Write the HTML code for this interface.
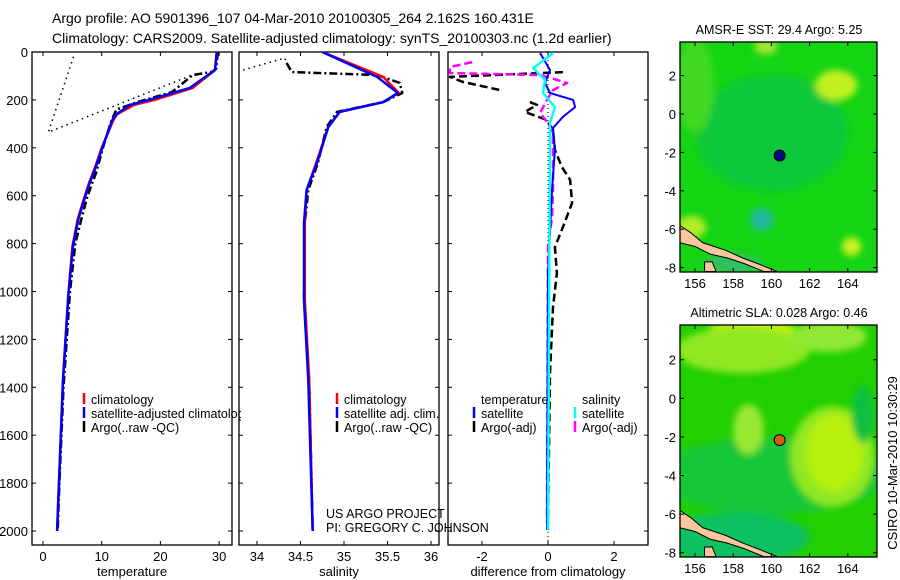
<!DOCTYPE html>
<html><head><meta charset="utf-8"><style>
html,body{margin:0;padding:0;background:#fff;}
svg{display:block;font-family:"Liberation Sans",sans-serif;}
</style></head><body>
<svg id="fig" width="900" height="580" viewBox="0 0 900 580" xmlns="http://www.w3.org/2000/svg">
<defs>
<clipPath id="c1"><rect x="32" y="52" width="200" height="493"/></clipPath>
<clipPath id="c1l"><rect x="32" y="52" width="209" height="493"/></clipPath>
<clipPath id="c2"><rect x="239" y="52" width="200" height="493"/></clipPath>
<clipPath id="c3"><rect x="448" y="52" width="200" height="493"/></clipPath>
<clipPath id="m1"><rect x="680" y="42" width="197" height="230"/></clipPath>
<clipPath id="m2"><rect x="680" y="325" width="197" height="232"/></clipPath>
<filter id="blur" x="-50%" y="-50%" width="200%" height="200%"><feGaussianBlur stdDeviation="3.5"/></filter>
</defs>
<text x="52" y="23" font-size="14">Argo profile: AO 5901396_107 04-Mar-2010 20100305_264 2.162S 160.431E</text>
<text x="52" y="43" font-size="14">Climatology: CARS2009. Satellite-adjusted climatology: synTS_20100303.nc (1.2d earlier)</text>
<g id="g"></g>
</svg>
<script>
// ---- data ----
const depthTicks = [0,200,400,600,800,1000,1200,1400,1600,1800,2000];
const tempTicks = [0,10,20,30];
const salTicks = [34,34.5,35,35.5,36];
const diffTicks = [-2,0,2];
const latTicks = [2,0,-2,-4,-6,-8];
const lonTicks = [156,158,160,162,164];

const tSatDepth = [0,75,150,200,221,260,284,400,480,550,618,700,814,1023,1370,2000];
const tSatVal   = [29.6,29.3,25,18,14.8,12.5,11.8,10.1,9.0,7.9,7.0,6.0,5.1,4.3,3.4,2.4];
const tClimDepth= [0,75,150,200,221,260,284,400,480,550,618,700,814,1023,1370,2000];
const tClimVal  = [29.6,29.3,25.5,19,15.5,12.6,12,10.0,8.9,7.8,6.9,5.9,5.0,4.3,3.4,2.4];
const tArgoDepth= [0,70,83,96,167,210,240,290,400,500,600,700,800,1000,1400,1800,2000];
const tArgoVal  = [29.8,29.5,28.8,25.5,22,16,12.5,11.6,10.2,9.1,7.6,6.5,5.5,4.6,3.5,2.8,2.5];
const tRawDepth = [20,335,95];
const tRawVal   = [5.2,0.9,25.5];

const sSatDepth = [0,104,171,209,250,313,463,576,714,1035,1370,2000];
const sSatVal   = [34.75,35.38,35.62,35.45,34.95,34.82,34.69,34.57,34.54,34.54,34.59,34.64];
const sClimDepth= [0,104,171,209,250,313,463,576,714,1035,1370,2000];
const sClimVal  = [34.75,35.45,35.63,35.45,34.95,34.82,34.68,34.57,34.55,34.55,34.6,34.64];
const sArgoDepth= [46,84,96,129,171,209,250,313,463,576,714,1035,1370,2000];
const sArgoVal  = [34.34,34.40,35.38,35.64,35.67,35.45,34.92,34.80,34.70,34.59,34.55,34.54,34.6,34.64];
const sRawDepth = [75,25,46];
const sRawVal   = [33.84,34.32,34.34];

const dTSatDepth = [4,75,129,171,200,230,271,317,409,576,923,1996];
const dTSatVal   = [-0.24,0.06,-0.09,0.06,0.76,0.82,0.45,0.15,0.21,0.12,0,-0.03];
const dSSatDepth = [4,46,67,117,171,230,296,1996];
const dSSatVal   = [0.15,-0.24,-0.45,-0.09,-0.15,0.21,0.06,0];
const dTArgoDepthA = [84,104,125,159];
const dTArgoValA   = [0.45,-2.97,-2.58,-1.45];
const dTArgoDepthB = [209,221,250,284,326,409,480,534,630,731,814,923,1065,1340,1967];
const dTArgoValB   = [-0.55,-0.33,-0.7,-0.03,0.15,0.21,0.42,0.67,0.73,0.45,0.21,0.27,0.15,0.06,0];
const dSArgoDepth = [42,63,88,96,129,159,200,255,292,338,576,689,814,1967];
const dSArgoVal   = [-2.3,-2.97,-2.97,-0.24,0.58,0.15,-0.03,-0.24,-0.03,0.15,0.15,0.12,0,-0.03];

const floatLon = 160.431, floatLat = -2.162;

// ---- helpers ----
const NS='http://www.w3.org/2000/svg';
const G=document.getElementById('g');
function mk(tag,attrs,parent){const e=document.createElementNS(NS,tag);for(const k in attrs)e.setAttribute(k,attrs[k]);(parent||G).appendChild(e);return e;}
const yD = d => 52 + d*0.2395;
const xT = v => 43 + v*5.87;
const xS = v => 257 + (v-34)*87;
const xDf = v => 548 + v*33;

function line(xf,depths,vals,color,w,dash,clip,name){
  const pts=depths.map((d,i)=>xf(vals[i]).toFixed(1)+','+yD(d).toFixed(1)).join(' ');
  const p=mk('polyline',{points:pts,fill:'none',stroke:color,'stroke-width':w,'clip-path':'url(#'+clip+')','stroke-linejoin':'round'});
  if(dash)p.setAttribute('stroke-dasharray',dash);
  
  
}
function panel(x0,w,xf,xticks,label,name,showY){
  const r=mk('rect',{x:x0,y:52,width:w,height:493,fill:'none',stroke:'#000','stroke-width':1.3});
  
  
  depthTicks.forEach(d=>{
    mk('line',{x1:x0,x2:x0+4,y1:yD(d),y2:yD(d),stroke:'#000'});
    mk('line',{x1:x0+w-4,x2:x0+w,y1:yD(d),y2:yD(d),stroke:'#000'});
    if(showY){const t=mk('text',{x:x0-4,y:yD(d)+5,'font-size':13,'text-anchor':'end'});t.textContent=d;
      
      }
  });
  xticks.forEach(v=>{
    const x=xf(v);
    mk('line',{x1:x,x2:x,y1:52,y2:56,stroke:'#000'});
    mk('line',{x1:x,x2:x,y1:541,y2:545,stroke:'#000'});
    const t=mk('text',{x:x,y:561,'font-size':13,'text-anchor':'middle'});t.textContent=v;
    
    
  });
  const t=mk('text',{x:x0+w/2,y:576,'font-size':13,'text-anchor':'middle'});t.textContent=label;
  
  
}
function legend(x,y,color,text,name,clip){
  const l=mk('line',{x1:x,x2:x,y1:y-11,y2:y,stroke:color,'stroke-width':2.5});
  
  
  const t=mk('text',{x:x+7,y:y,'font-size':12.5});t.textContent=text;
  if(clip)t.setAttribute('clip-path','url(#'+clip+')');
  
  
}

// ---- panels ----
panel(32,200,xT,tempTicks,'temperature','temperature-panel',true);
panel(239,200,xS,salTicks,'salinity','salinity-panel',false);
panel(448,200,xDf,diffTicks,'difference from climatology','difference-panel',false);

// temperature
line(xT,tRawDepth,tRawVal,'#000',1.5,'1.5 4','c1','temp-raw-dotted');
line(xT,tArgoDepth,tArgoVal,'#000',2.5,'8 3 2 3','c1','temp-argo-line');
line(xT,tClimDepth,tClimVal,'#ff0000',2.5,null,'c1','temp-climatology-line');
line(xT,tSatDepth,tSatVal,'#0000ff',2.5,null,'c1','temp-satellite-line');
legend(84,404,'#ff0000','climatology','temp-legend-climatology','c1l');
legend(84,418,'#0000ff','satellite-adjusted climatology','temp-legend-satellite','c1l');
legend(84,432,'#000','Argo(..raw -QC)','temp-legend-argo','c1l');

// salinity
line(xS,sRawDepth,sRawVal,'#000',1.5,'1.5 4','c2','sal-raw-dotted');
line(xS,sArgoDepth,sArgoVal,'#000',2.5,'8 3 2 3','c2','sal-argo-line');
line(xS,sClimDepth,sClimVal,'#ff0000',2.5,null,'c2','sal-climatology-line');
line(xS,sSatDepth,sSatVal,'#0000ff',2.5,null,'c2','sal-satellite-line');
legend(337,404,'#ff0000','climatology','sal-legend-climatology');
legend(337,418,'#0000ff','satellite adj. clim.','sal-legend-satellite');
legend(337,432,'#000','Argo(..raw -QC)','sal-legend-argo');
[['US ARGO PROJECT',518],['PI: GREGORY C. JOHNSON',532]].forEach(([s,y],i)=>{
  const t=mk('text',{x:326,y:y,'font-size':12.5});t.textContent=s;
  
  
});

// differences
mk('line',{x1:548,x2:548,y1:52,y2:545,stroke:'#000','stroke-width':1,'stroke-dasharray':'1 3'});
line(xDf,dTArgoDepthA,dTArgoValA,'#000',2.5,'8 4','c3','diff-temp-argo-upper');
line(xDf,dTArgoDepthB,dTArgoValB,'#000',2.5,'8 4','c3','diff-temp-argo-line');
line(xDf,dSArgoDepth,dSArgoVal,'#ff00ff',2.5,'8 4','c3','diff-sal-argo-line');
line(xDf,dTSatDepth,dTSatVal,'#0000ff',2,null,'c3','diff-temp-satellite-line');
line(xDf,dSSatDepth,dSSatVal,'#00ffff',2.5,null,'c3','diff-sal-satellite-line');
[['temperature',481,404],['salinity',582,404]].forEach(([s,x,y])=>{
  const t=mk('text',{x:x,y:y,'font-size':12.5});t.textContent=s;
  
  
});
legend(474,418,'#0000ff','satellite','diff-legend-temp-satellite');
legend(474,432,'#000','Argo(-adj)','diff-legend-temp-argo');
legend(575,418,'#00ffff','satellite','diff-legend-sal-satellite');
legend(575,432,'#ff00ff','Argo(-adj)','diff-legend-sal-argo');

// ---- maps ----
function mapPanel(top,bottom,latTop,scaleY,title,clip,blobs,base,dotColor,name){
  const lx = lon => 695 + (lon-156)*19.1;
  const ly = lat => top + (latTop-lat)*scaleY;
  const t=mk('text',{x:779,y:top-8,'font-size':12.5,'text-anchor':'middle'});t.textContent=title;
  
  
  const g=mk('g',{'clip-path':'url(#'+clip+')'});
  mk('rect',{x:680,y:top,width:197,height:bottom-top,fill:base},g);
  const bg=mk('g',{filter:'url(#blur)'},g);
  blobs.forEach(b=>mk('ellipse',{cx:lx(b[0]),cy:ly(b[1]),rx:b[2]*19.1,ry:b[3]*scaleY,fill:b[4]},bg));
  const land=[[155.2,-5.8],[155.8,-6.2],[156.4,-6.7],[157,-6.9],[157.6,-7.1],[158.5,-7.5],[159.3,-7.8],[160.3,-8.2],[159.6,-8.2],[158.6,-7.8],[157.7,-7.5],[156.8,-7.3],[156,-6.9],[155.2,-6.7]];
  const lp=mk('polygon',{points:land.map(p=>lx(p[0])+','+ly(p[1])).join(' '),fill:'#f8c89c',stroke:'#000','stroke-width':1},g);
  
  
  mk('polygon',{points:[[156.5,-7.7],[156.9,-7.7],[157.1,-8.2],[156.5,-8.2]].map(p=>lx(p[0])+','+ly(p[1])).join(' '),fill:'#f8c89c',stroke:'#000'},g);
  const fr=mk('rect',{x:680,y:top,width:197,height:bottom-top,fill:'none',stroke:'#000','stroke-width':1.3});
  
  
  const d=mk('circle',{cx:lx(floatLon),cy:ly(floatLat),r:5.5,fill:dotColor,stroke:'#000','stroke-width':1});
  
  
  latTicks.forEach(v=>{const y=ly(v);
    mk('line',{x1:680,x2:684,y1:y,y2:y,stroke:'#000'});mk('line',{x1:873,x2:877,y1:y,y2:y,stroke:'#000'});
    const tt=mk('text',{x:676,y:y+5,'font-size':13,'text-anchor':'end'});tt.textContent=v;
    
    });
  lonTicks.forEach(v=>{const x=lx(v);
    mk('line',{x1:x,x2:x,y1:top,y2:top+4,stroke:'#000'});mk('line',{x1:x,x2:x,y1:bottom-4,y2:bottom,stroke:'#000'});
    const tt=mk('text',{x:x,y:bottom+16,'font-size':13,'text-anchor':'middle'});tt.textContent=v;
    
    });
}
mapPanel(42,272,3.75,19.2,'AMSR-E SST: 29.4 Argo: 5.25','m1',[
  [160,-1,4,3,'#10c83a'],[156,1.5,1,2.5,'#40d820'],[163.4,1.5,1.1,0.8,'#c0f020'],[159.7,3.5,0.6,0.4,'#a0e830'],
  [164.2,-6.9,0.5,0.5,'#c8f020'],[155.8,-5.9,0.8,0.6,'#b0ec20'],[159.5,-5.5,0.6,0.6,'#20b8a0'],
  [158,-7.8,1.5,0.5,'#30c060']
],'#14d414','#0a0a80','sst-map');
mapPanel(325,557,3.8,19.3,'Altimetric SLA: 0.028 Argo: 0.46','m2',[
  [160,-4,6,2,'#18c838'],[159,3.2,2.5,1,'#c8f000'],[158.5,2.5,3.5,1.2,'#90e820'],[163,3.2,2,0.8,'#90e830'],
  [163.2,-3,2.2,2.6,'#90e820'],[163.3,-2.8,1.5,2,'#b8f010'],[158.8,-1.6,0.8,1.3,'#98e830'],
  [158,-7.2,4,1.3,'#10c060'],[164.8,-0.8,0.6,1.5,'#10c040']
],'#22d000','#d45a10','sla-map');
const c=mk('text',{x:0,y:0,'font-size':13,'text-anchor':'middle',transform:'translate(897,463) rotate(-90)'});
c.textContent='CSIRO 10-Mar-2010 10:30:29';


</script>
</body></html>
